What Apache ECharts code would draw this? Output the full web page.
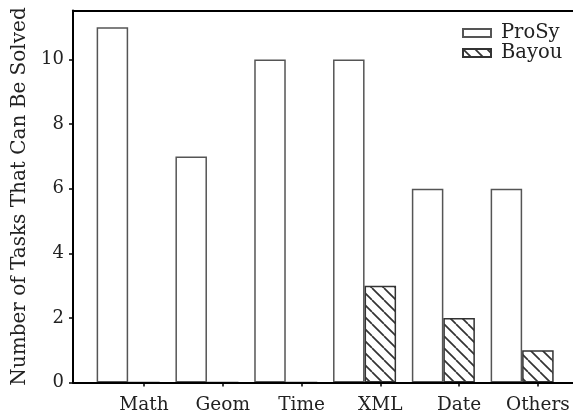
<!DOCTYPE html>
<html>
<head>
<meta charset="utf-8">
<script src="https://cdn.jsdelivr.net/npm/echarts@6/dist/echarts.min.js"></script>
<style>
  html, body { margin: 0; padding: 0; background: #fff; overflow: hidden; }
  #chart { width: 573px; height: 417px; }
</style>
</head>
<body>
<div id="chart"></div>
<script>
// Tasks solved per category by each tool
const categories = ['Math', 'Geom', 'Time', 'XML', 'Date', 'Others'];
const prosyValues = [11, 7, 10, 10, 6, 6];
const bayouValues = [0, 0, 0, 3, 2, 1];
const yTicks = [0, 2, 4, 6, 8, 10];

const BAR_W = 0.4;          // bar width in category units
const UNIT_PX = 78.8;       // pixels per category
const GRID_W = 560;         // plot runs past the right edge of the page
const X_MIN = -0.5, X_MAX = X_MIN + GRID_W / UNIT_PX;
const Y_MAX = 11.52;
const FONT = 'DejaVu Serif';

// diagonal hatch tile for the second series
function hatchPattern(period, lw, color) {
  const c = document.createElement('canvas');
  c.width = period; c.height = period;
  const ctx = c.getContext('2d');
  ctx.strokeStyle = color;
  ctx.lineWidth = lw;
  ctx.fillStyle = '#fff';
  ctx.fillRect(0, 0, period, period);
  for (const o of [-period, 0, period]) {
    ctx.beginPath();
    ctx.moveTo(o, 0);
    ctx.lineTo(o + period, period);
    ctx.stroke();
  }
  return { image: c, repeat: 'repeat' };
}
const hatch = hatchPattern(12, 1.7, '#333');

const prosyData = categories.map((c, i) => [i, prosyValues[i]]);
const bayouData = categories.map((c, i) => [i + BAR_W, bayouValues[i]]);
const xTickPos = categories.map((c, i) => i + BAR_W);

const chart = echarts.init(document.getElementById('chart'), null, { renderer: 'canvas' });

const spine = { show: true, onZero: false, lineStyle: { color: '#000', width: 2 } };

chart.setOption({
  animation: false,
  backgroundColor: '#fff',
  grid: {
    left: 73,
    top: 10.5,
    bottom: 34.5,
    width: GRID_W,
    outerBoundsMode: 'none',
    containLabel: false,
    show: false
  },
  legend: {
    orient: 'vertical',
    left: 462,
    top: 23,
    padding: 0,
    itemGap: 0,
    itemWidth: 28,
    itemHeight: 8,
    icon: 'rect',
    textStyle: {
      fontFamily: FONT, fontSize: 19.5, lineHeight: 20, color: '#222',
      padding: [0, 0, 0, 5]
    },
    data: ['ProSy', 'Bayou']
  },
  xAxis: [
    {
      type: 'value', min: X_MIN, max: X_MAX, z: 5,
      position: 'bottom',
      splitLine: { show: false },
      axisLine: spine,
      axisTick: {
        show: true, inside: false, length: 4,
        customValues: xTickPos,
        lineStyle: { color: '#000', width: 1.5 }
      },
      axisLabel: {
        show: true, margin: 13,
        customValues: xTickPos,
        fontFamily: FONT, fontSize: 18.5, color: '#222',
        formatter: v => categories[Math.round(v - BAR_W)]
      }
    },
    {
      // second series axis, also drawing the top frame line
      type: 'value', min: X_MIN, max: X_MAX, z: 5,
      position: 'top',
      splitLine: { show: false },
      axisLine: spine,
      axisTick: { show: false },
      axisLabel: { show: false }
    }
  ],
  yAxis: {
    type: 'value',
    min: 0,
    max: Y_MAX,
    z: 5,
    splitLine: { show: false },
    axisLine: spine,
    axisTick: {
      show: true, inside: false, length: 4,
      customValues: yTicks,
      lineStyle: { color: '#000', width: 1.5 }
    },
    axisLabel: {
      margin: 9,
      customValues: yTicks,
      fontFamily: FONT, fontSize: 18, color: '#222'
    },
    name: 'Number of Tasks That Can Be Solved',
    nameLocation: 'middle',
    nameRotate: 90,
    nameGap: 43,
    nameTextStyle: { fontFamily: FONT, fontSize: 20, color: '#222' }
  },
  series: [
    {
      name: 'ProSy',
      type: 'bar',
      xAxisIndex: 0,
      barWidth: (BAR_W * 100) + '%',
      data: prosyData,
      itemStyle: { color: '#fff', borderColor: '#555', borderWidth: 1.5 }
    },
    {
      name: 'Bayou',
      type: 'bar',
      xAxisIndex: 1,
      barWidth: (BAR_W * 100) + '%',
      data: bayouData,
      itemStyle: { color: hatch, borderColor: '#333', borderWidth: 1.5 }
    }
  ]
});
</script>
</body>
</html>
